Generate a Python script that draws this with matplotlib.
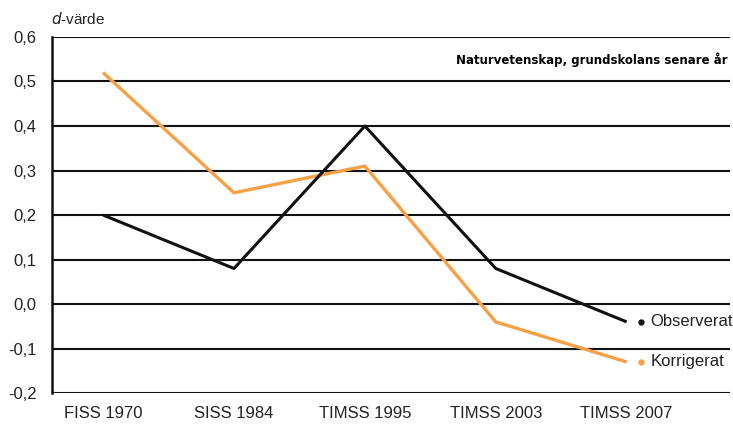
import matplotlib
matplotlib.use('Agg')
import matplotlib.pyplot as plt
from matplotlib.ticker import FuncFormatter

plt.rcParams['font.family'] = ['Liberation Sans', 'DejaVu Sans']

studier = ['FISS 1970', 'SISS 1984', 'TIMSS 1995', 'TIMSS 2003', 'TIMSS 2007']
observerat = [0.20, 0.08, 0.40, 0.08, -0.04]
korrigerat = [0.52, 0.25, 0.31, -0.04, -0.13]
yticks = [-0.2, -0.1, 0.0, 0.1, 0.2, 0.3, 0.4, 0.5, 0.6]

svart = '#111111'
orange = '#F7A045'

fig = plt.figure(figsize=(7.33, 4.25), dpi=100)
ax = fig.add_axes([0.071, 0.075, 0.925, 0.838])

x = list(range(len(studier)))
ax.plot(x, korrigerat, color=orange, lw=2.4, solid_capstyle='butt', zorder=3)
ax.plot(x, observerat, color=svart, lw=2.2, solid_capstyle='butt', zorder=4)

# gridlines
for v in yticks:
    ax.axhline(v, color=svart, lw=1.5, zorder=1)

ax.set_xlim(-0.39, 4.79)
ax.set_ylim(-0.2, 0.6)
ax.set_xticks(x)
ax.set_xticklabels(studier, fontsize=12, color='#222222')
ax.set_yticks(yticks)
ax.yaxis.set_major_formatter(FuncFormatter(lambda v, p: ('%.1f' % v).replace('.', ',').replace('-0,0', '0,0')))
ax.tick_params(axis='y', length=0, pad=11, labelsize=12, labelcolor='#222222')
ax.tick_params(axis='x', length=0, pad=9)

for s in ['top', 'right', 'bottom']:
    ax.spines[s].set_visible(False)
ax.spines['left'].set_linewidth(1.8)
ax.spines['left'].set_color(svart)

# legend next to line ends
for serie, namn, farg in [(observerat, 'Observerat', svart), (korrigerat, 'Korrigerat', orange)]:
    ax.plot([x[-1]], [serie[-1]], marker='o', ms=3.5, color=farg, ls='none',
            transform=ax.transData + matplotlib.transforms.ScaledTranslation(14/100, 0, fig.dpi_scale_trans))
    ax.annotate(namn, xy=(x[-1], serie[-1]), xytext=(17, 0), textcoords='offset points',
                va='center', ha='left', fontsize=12, color='#222222')

ax.text(0.996, 0.935, 'Naturvetenskap, grundskolans senare år', transform=ax.transAxes,
        ha='right', va='center', fontsize=8.5, fontweight='bold',
        family=['Liberation Sans Narrow', 'DejaVu Sans'])

fig.text(0.07, 0.955, r'$d$-värde', fontsize=11, color='#222222', ha='left', va='center')

fig.savefig('out.png', dpi=100)
